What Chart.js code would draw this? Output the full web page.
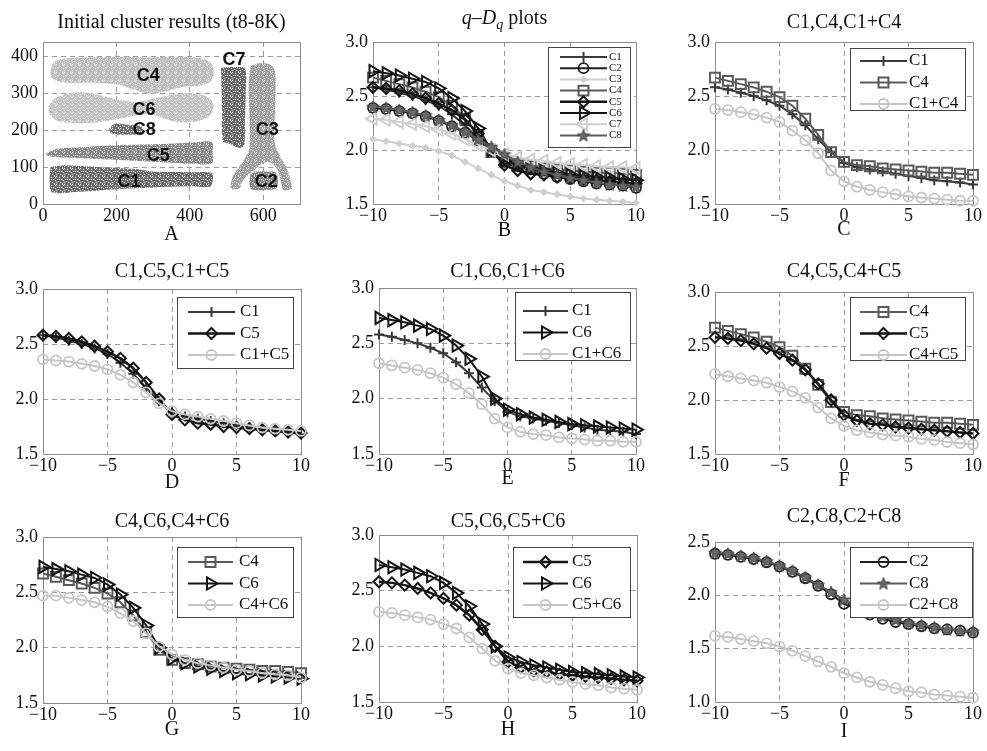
<!DOCTYPE html>
<html>
<head>
<meta charset="utf-8">
<script src="https://cdn.jsdelivr.net/npm/chart.js@4.4.0/dist/chart.umd.min.js"></script>
<style>
  body { margin: 0; background: #fff; }
  #fig { position: relative; width: 987px; height: 751px; overflow: hidden; background: #fff; }
  #fig canvas { position: absolute; }
</style>
</head>
<body>
<div id="fig"></div>
<script>
// q values and tick labels
const q = [-10, -9, -8, -7, -6, -5, -4, -3, -2, -1, 0, 1, 2, 3, 4, 5, 6, 7, 8, 9, 10];
const xTicks = [-10, -5, 0, 5, 10];
const yTicks = [1.5, 2.0, 2.5, 3.0];
const yTicksI = [1.0, 1.5, 2.0, 2.5];
const aTicksX = [0, 200, 400, 600];
const aTicksY = [0, 100, 200, 300, 400];

// Dq for each cluster
const C1 = [2.58, 2.56, 2.53, 2.50, 2.46, 2.41, 2.33, 2.23, 2.10, 1.98, 1.88, 1.84, 1.82, 1.80, 1.78, 1.76, 1.74, 1.72, 1.71, 1.70, 1.68];
const C2 = [2.39, 2.38, 2.36, 2.34, 2.31, 2.27, 2.22, 2.16, 2.09, 2.01, 1.92, 1.87, 1.82, 1.78, 1.75, 1.73, 1.71, 1.69, 1.68, 1.67, 1.65];
const C3 = [2.10, 2.08, 2.06, 2.04, 2.02, 1.99, 1.95, 1.89, 1.83, 1.77, 1.71, 1.67, 1.63, 1.61, 1.59, 1.57, 1.55, 1.54, 1.53, 1.52, 1.51];
const C4 = [2.67, 2.64, 2.61, 2.58, 2.54, 2.49, 2.41, 2.29, 2.14, 1.98, 1.89, 1.86, 1.85, 1.83, 1.82, 1.81, 1.80, 1.79, 1.79, 1.78, 1.77];
const C5 = [2.58, 2.57, 2.55, 2.52, 2.48, 2.43, 2.37, 2.28, 2.15, 2.00, 1.86, 1.81, 1.78, 1.77, 1.75, 1.74, 1.73, 1.72, 1.71, 1.70, 1.69];
const C6 = [2.73, 2.71, 2.69, 2.66, 2.63, 2.57, 2.48, 2.36, 2.20, 2.00, 1.90, 1.86, 1.83, 1.81, 1.79, 1.77, 1.76, 1.75, 1.74, 1.73, 1.72];
const C7 = [2.29, 2.28, 2.26, 2.24, 2.22, 2.19, 2.15, 2.10, 2.05, 2.00, 1.96, 1.93, 1.91, 1.90, 1.88, 1.87, 1.86, 1.85, 1.84, 1.84, 1.83];
const C8 = [2.40, 2.39, 2.37, 2.35, 2.32, 2.28, 2.23, 2.17, 2.10, 2.03, 1.96, 1.89, 1.84, 1.80, 1.77, 1.74, 1.72, 1.70, 1.68, 1.67, 1.66];

// Dq of merged clusters
const C1C4 = [2.38, 2.37, 2.35, 2.33, 2.30, 2.26, 2.18, 2.09, 1.97, 1.81, 1.71, 1.66, 1.63, 1.61, 1.59, 1.57, 1.56, 1.55, 1.54, 1.53, 1.53];
const C1C5 = [2.36, 2.35, 2.34, 2.32, 2.30, 2.27, 2.22, 2.15, 2.06, 1.96, 1.89, 1.86, 1.84, 1.82, 1.80, 1.78, 1.76, 1.74, 1.73, 1.72, 1.71];
const C1C6 = [2.32, 2.30, 2.28, 2.26, 2.23, 2.19, 2.13, 2.05, 1.95, 1.82, 1.74, 1.70, 1.68, 1.67, 1.65, 1.64, 1.63, 1.62, 1.62, 1.61, 1.61];
const C4C5 = [2.24, 2.22, 2.20, 2.18, 2.16, 2.12, 2.08, 2.02, 1.93, 1.83, 1.76, 1.72, 1.70, 1.68, 1.67, 1.66, 1.64, 1.63, 1.61, 1.60, 1.59];
const C4C6 = [2.47, 2.47, 2.45, 2.43, 2.41, 2.37, 2.31, 2.24, 2.13, 2.01, 1.94, 1.89, 1.86, 1.84, 1.82, 1.80, 1.79, 1.77, 1.76, 1.75, 1.73];
const C5C6 = [2.31, 2.30, 2.28, 2.26, 2.24, 2.20, 2.16, 2.08, 1.98, 1.87, 1.80, 1.76, 1.74, 1.72, 1.70, 1.68, 1.66, 1.65, 1.63, 1.62, 1.61];
const C2C8 = [1.62, 1.61, 1.59, 1.57, 1.55, 1.52, 1.48, 1.43, 1.38, 1.33, 1.27, 1.23, 1.19, 1.16, 1.13, 1.10, 1.09, 1.07, 1.06, 1.05, 1.04];

// outlines of the initial clusters (panel A), [x, y]
const shapeC4 = [[20,360],[30,385],[60,395],[120,398],[200,400],[280,398],[350,400],[420,398],[455,385],[465,360],[458,335],[430,322],[380,318],[330,305],[290,300],[250,310],[200,325],[130,330],[60,330],[25,340],[20,360]];
const shapeC6 = [[15,265],[30,285],[70,300],[110,303],[160,294],[210,282],[260,278],[310,288],[360,298],[410,300],[450,290],[465,268],[455,240],[420,225],[370,222],[330,232],[290,245],[250,240],[200,230],[150,222],[90,220],[40,226],[18,245],[15,265]];
const shapeC8 = [[180,205],[195,218],[230,215],[265,212],[275,200],[260,190],[220,188],[185,192],[180,205]];
const shapeC5 = [[8,138],[40,150],[120,155],[220,160],[320,163],[420,168],[460,168],[462,140],[460,110],[400,110],[300,115],[200,120],[100,125],[40,127],[12,132],[8,138]];
const shapeC1 = [[20,100],[60,105],[120,102],[200,98],[250,95],[300,88],[400,86],[460,84],[462,60],[455,47],[400,48],[300,45],[200,40],[100,33],[25,32],[18,60],[20,100]];
const shapeC7 = [[485,370],[520,372],[550,368],[552,300],[550,230],[548,160],[535,152],[505,165],[490,170],[488,250],[485,370]];
const shapeC3 = [[565,375],[590,382],[620,378],[632,360],[633,280],[630,200],[632,160],[648,125],[665,95],[675,60],[678,42],[655,38],[648,60],[640,90],[625,110],[610,115],[595,108],[575,92],[560,80],[542,60],[535,42],[512,42],[515,70],[530,95],[550,125],[562,150],[562,250],[560,320],[565,375]];
const shapeC2 = [[565,80],[580,88],[610,88],[635,85],[640,60],[635,42],[600,38],[568,40],[562,60],[565,80]];
const clusterLabels = [
  { text: 'C4', x: 287, y: 347 }, { text: 'C6', x: 275, y: 254 }, { text: 'C8', x: 276, y: 200 },
  { text: 'C5', x: 314, y: 131 }, { text: 'C1', x: 234, y: 61 }, { text: 'C7', x: 520, y: 391 },
  { text: 'C3', x: 611, y: 202 }, { text: 'C2', x: 608, y: 61 }
];

const serif = '"Liberation Serif", "Times New Roman", serif';
Chart.defaults.font.family = serif;
Chart.defaults.font.size = 18;
Chart.defaults.color = '#111';

const fig = document.getElementById('fig');
const YW = 40, XH = 30;
const clear = 'rgba(0,0,0,0)';

// filled five point star for C8
const star = document.createElement('canvas');
star.width = 14; star.height = 14;
(function () {
  const c = star.getContext('2d');
  c.beginPath();
  for (let k = 0; k < 10; k++) {
    const r = k % 2 ? 2.7 : 6.6;
    const a = -Math.PI / 2 + k * Math.PI / 5;
    c.lineTo(7 + r * Math.cos(a), 7.5 + r * Math.sin(a));
  }
  c.closePath();
  c.fillStyle = '#686868'; c.fill();
  c.strokeStyle = '#4a4a4a'; c.lineWidth = 1; c.stroke();
})();

const sty = {
  C1: { color: '#3a3a3a', lw: 2, ps: 'cross', r: 5, mw: 2, fill: clear },
  C2: { color: '#1e1e1e', lw: 2, ps: 'circle', r: 5, mw: 1.8, fill: clear },
  C3: { color: '#cfcfcf', lw: 2, ps: 'rectRot', r: 3.5, mw: 1, fill: '#cfcfcf' },
  C4: { color: '#5a5a5a', lw: 2, ps: 'rect', r: 7, mw: 2, fill: clear },
  C5: { color: '#141414', lw: 2.5, ps: 'rectRot', r: 5.5, mw: 2, fill: clear },
  C6: { color: '#141414', lw: 2, ps: 'triangle', rot: 90, r: 7, mw: 2, fill: clear },
  C7: { color: '#cfcfcf', lw: 2, ps: 'triangle', rot: -90, r: 7, mw: 2, fill: clear },
  C8: { color: '#5a5a5a', lw: 2, ps: star, r: 6, mw: 1, fill: '#686868' },
  mix: { color: '#c6c6c6', lw: 2, ps: 'circle', r: 5, mw: 1.8, fill: clear }
};

// speckled texture, the clusters are clouds of points
const holes = [[0,0],[3,1],[6,0],[1,3],[5,3],[7,4],[2,5],[4,6],[0,6],[6,7],[3,3],[7,1]];
function speckle(color) {
  const t = document.createElement('canvas');
  t.width = 8; t.height = 8;
  const c = t.getContext('2d');
  c.fillStyle = color; c.fillRect(0, 0, 8, 8);
  c.fillStyle = 'rgba(255,255,255,0.9)';
  holes.forEach(p => c.fillRect(p[0], p[1], 1, 1));
  return c.createPattern(t, 'repeat');
}

function fmt(v) { return v < 0 ? '\u2212' + Math.abs(v) : String(v); }

function gridColor(ctx) {
  const s = ctx.scale, v = ctx.tick && ctx.tick.value;
  return (v === s.min || v === s.max) ? clear : '#9a9a9a';
}

function drawRich(c, parts, cx, cy) {
  const font = p => (p.i ? 'italic ' : '') + (p.sub ? 14 : 20) + 'px ' + serif;
  let w = 0;
  parts.forEach(p => { c.font = font(p); w += c.measureText(p.t).width; });
  let x = cx - w / 2;
  c.textAlign = 'left'; c.textBaseline = 'middle';
  parts.forEach(p => {
    c.font = font(p);
    c.fillText(p.t, x, cy + (p.sub ? 6 : 0));
    x += c.measureText(p.t).width;
  });
}

function drawLegend(c, L, ox, oy) {
  c.save();
  c.fillStyle = '#fff';
  c.fillRect(L.x - ox, L.y - oy, L.w, L.h);
  c.strokeStyle = '#444'; c.lineWidth = 1;
  c.strokeRect(L.x - ox + 0.5, L.y - oy + 0.5, L.w, L.h);
  L.items.forEach((it, i) => {
    const y = L.row0 + i * L.dy - oy, s = it[1];
    c.strokeStyle = s.color; c.lineWidth = s.lw;
    c.beginPath(); c.moveTo(L.sx0 - ox, y); c.lineTo(L.sx1 - ox, y); c.stroke();
    c.fillStyle = s.fill; c.strokeStyle = s.color; c.lineWidth = s.mw;
    Chart.helpers.drawPoint(c, { pointStyle: s.ps, rotation: s.rot || 0, radius: s.r, borderWidth: s.mw }, (L.sx0 + L.sx1) / 2 - ox, y);
    c.fillStyle = '#111'; c.font = L.font;
    c.textAlign = 'left'; c.textBaseline = 'middle';
    c.fillText(it[0], L.tx - ox, y);
  });
  c.restore();
}

function decor(cfg) {
  return {
    id: 'decor',
    beforeDatasetsDraw(chart) {
      const a = chart.chartArea, c = chart.ctx;
      c.save();
      c.strokeStyle = '#8c8c8c'; c.lineWidth = 1;
      c.strokeRect(Math.round(a.left) + 0.5, Math.round(a.top) + 0.5, Math.round(a.right - a.left), Math.round(a.bottom - a.top));
      c.restore();
    },
    afterDatasetsDraw(chart) {
      const c = chart.ctx;
      if (cfg.labels) {
        c.save();
        c.font = 'bold 18px "Liberation Sans", Arial, sans-serif';
        c.fillStyle = '#111'; c.textAlign = 'center'; c.textBaseline = 'middle';
        cfg.labels.forEach(l => c.fillText(l.text, chart.scales.x.getPixelForValue(l.x), chart.scales.y.getPixelForValue(l.y)));
        c.restore();
      }
      if (cfg.legend) drawLegend(c, cfg.legend, cfg.cell.x, cfg.cell.y);
    },
    afterDraw(chart) {
      const a = chart.chartArea, c = chart.ctx, cx = (a.left + a.right) / 2;
      c.save();
      c.fillStyle = '#111';
      const parts = cfg.rich || [{ t: cfg.title }];
      drawRich(c, parts, cx, cfg.titleY - cfg.cell.y);
      c.font = '20px ' + serif;
      c.textAlign = 'center'; c.textBaseline = 'middle';
      c.fillText(cfg.letter, cx, cfg.letterY - cfg.cell.y);
      c.restore();
    }
  };
}

function axis(min, max, ticks, isX, label) {
  return {
    type: 'linear', min: min, max: max,
    afterBuildTicks: s => { s.ticks = ticks.map(v => ({ value: v })); },
    afterFit: s => { if (isX) s.height = XH; else s.width = YW; },
    grid: { color: gridColor, lineWidth: 1, drawTicks: false },
    border: { display: false, dash: [5, 4] },
    ticks: { padding: isX ? 1 : 5, autoSkip: false, maxRotation: 0, callback: label,
      color: '#111', font: { family: serif, size: 18 } }
  };
}

function makePanel(cfg, type, datasets, xa, ya) {
  const cv = document.createElement('canvas');
  cv.width = cfg.cell.w; cv.height = cfg.cell.h;
  cv.style.left = cfg.cell.x + 'px'; cv.style.top = cfg.cell.y + 'px';
  fig.appendChild(cv);
  const p = cfg.plot;
  new Chart(cv, {
    type: type,
    data: { datasets: datasets },
    options: {
      responsive: false, animation: false, events: [],
      layout: { padding: {
        left: p.l - cfg.cell.x - YW, top: p.t - cfg.cell.y,
        right: cfg.cell.x + cfg.cell.w - p.r, bottom: cfg.cell.y + cfg.cell.h - p.b - XH
      } },
      plugins: { legend: { display: false }, tooltip: { enabled: false } },
      scales: { x: xa, y: ya }
    },
    plugins: [decor(cfg)]
  });
}

function series(values, s, i) {
  return {
    data: q.map((x, k) => ({ x: x, y: values[k] })),
    borderColor: s.color, borderWidth: s.lw,
    pointStyle: s.ps, pointRotation: s.rot || 0, pointRadius: s.r,
    pointBorderColor: s.color, pointBackgroundColor: s.fill, pointBorderWidth: s.mw,
    tension: 0, fill: false, clip: false, order: -i
  };
}

function blob(shape, color) {
  return {
    data: shape.map(p => ({ x: p[0], y: p[1] })),
    showLine: true, fill: 'shape', borderWidth: 0, borderColor: clear,
    backgroundColor: speckle(color), pointRadius: 0, tension: 0.3
  };
}

function legend3(x, y, w, h, row0, sx0, sx1, tx, items) {
  return { x: x, y: y, w: w, h: h, row0: row0, dy: 21.5, sx0: sx0, sx1: sx1, tx: tx, font: '17px ' + serif, items: items };
}

// panel A
makePanel({
  cell: { x: 0, y: 0, w: 330, h: 250 }, plot: { l: 43, t: 42, r: 300, b: 204 },
  title: 'Initial cluster results (t8-8K)', titleY: 23, letter: 'A', letterY: 235,
  labels: clusterLabels
}, 'scatter', [
  blob(shapeC4, '#bdbdbd'), blob(shapeC6, '#c2c2c2'), blob(shapeC8, '#727272'),
  blob(shapeC5, '#888'), blob(shapeC1, '#6c6c6c'), blob(shapeC7, '#686868'),
  blob(shapeC3, '#9e9e9e'), blob(shapeC2, '#858585')
], axis(0, 700, aTicksX, true, v => String(v)), axis(0, 440, aTicksY, false, v => String(v)));

// panel B
const allNames = ['C1', 'C2', 'C3', 'C4', 'C5', 'C6', 'C7', 'C8'];
const allVals = [C1, C2, C3, C4, C5, C6, C7, C8];
makePanel({
  cell: { x: 330, y: 0, w: 330, h: 250 }, plot: { l: 373, t: 42, r: 636, b: 204 },
  rich: [{ t: 'q', i: 1 }, { t: '\u2013' }, { t: 'D', i: 1 }, { t: 'q', i: 1, sub: 1 }, { t: ' plots' }],
  titleY: 19, letter: 'B', letterY: 231,
  legend: { x: 548, y: 47, w: 82, h: 100, row0: 57, dy: 11.2, sx0: 560, sx1: 607, tx: 609,
    font: '11px ' + serif, items: allNames.map(n => [n, sty[n]]) }
}, 'line', allVals.map((v, i) => series(v, sty[allNames[i]], i)),
  axis(-10, 10, xTicks, true, fmt), axis(1.5, 3.0, yTicks, false, v => v.toFixed(1)));

// pair panels
const pairs = [
  { cell: { x: 660, y: 0, w: 327, h: 250 }, plot: { l: 715, t: 42, r: 973, b: 204 }, titleY: 23, letter: 'C', letterY: 230,
    a: 'C1', b: 'C4', m: C1C4, leg: [850, 48, 115, 62, 61, 860, 907, 909] },
  { cell: { x: 0, y: 250, w: 330, h: 250 }, plot: { l: 43, t: 289, r: 301, b: 454 }, titleY: 272, letter: 'D', letterY: 483,
    a: 'C1', b: 'C5', m: C1C5, leg: [177, 297, 116, 71, 312, 188, 235, 240] },
  { cell: { x: 330, y: 250, w: 330, h: 250 }, plot: { l: 379, t: 288, r: 636, b: 454 }, titleY: 272, letter: 'E', letterY: 479,
    a: 'C1', b: 'C6', m: C1C6, leg: [515, 292, 115, 68, 311, 523, 568, 572] },
  { cell: { x: 660, y: 250, w: 327, h: 250 }, plot: { l: 715, t: 292, r: 973, b: 454 }, titleY: 272, letter: 'F', letterY: 481,
    a: 'C4', b: 'C5', m: C4C5, leg: [850, 297, 115, 63, 312, 860, 907, 909] },
  { cell: { x: 0, y: 500, w: 330, h: 251 }, plot: { l: 43, t: 537, r: 301, b: 703 }, titleY: 522, letter: 'G', letterY: 730,
    a: 'C4', b: 'C6', m: C4C6, leg: [177, 547, 116, 70, 562, 188, 233, 239] },
  { cell: { x: 330, y: 500, w: 330, h: 251 }, plot: { l: 379, t: 535, r: 637, b: 702 }, titleY: 522, letter: 'H', letterY: 730,
    a: 'C5', b: 'C6', m: C5C6, leg: [513, 547, 117, 70, 562, 523, 568, 572] },
  { cell: { x: 660, y: 500, w: 327, h: 251 }, plot: { l: 715, t: 542, r: 973, b: 702 }, titleY: 517, letter: 'I', letterY: 732,
    a: 'C2', b: 'C8', m: C2C8, leg: [850, 547, 122, 70, 562, 860, 907, 909], low: true }
];

pairs.forEach(p => {
  const va = allVals[allNames.indexOf(p.a)], vb = allVals[allNames.indexOf(p.b)];
  const mixName = p.a + '+' + p.b;
  const L = p.leg;
  p.title = p.a + ',' + p.b + ',' + mixName;
  p.legend = legend3(L[0], L[1], L[2], L[3], L[4], L[5], L[6], L[7],
    [[p.a, sty[p.a]], [p.b, sty[p.b]], [mixName, sty.mix]]);
  const ya = p.low ? axis(1.0, 2.5, yTicksI, false, v => v.toFixed(1)) : axis(1.5, 3.0, yTicks, false, v => v.toFixed(1));
  makePanel(p, 'line', [series(va, sty[p.a], 0), series(vb, sty[p.b], 1), series(p.m, sty.mix, 2)],
    axis(-10, 10, xTicks, true, fmt), ya);
});
</script>
</body>
</html>
